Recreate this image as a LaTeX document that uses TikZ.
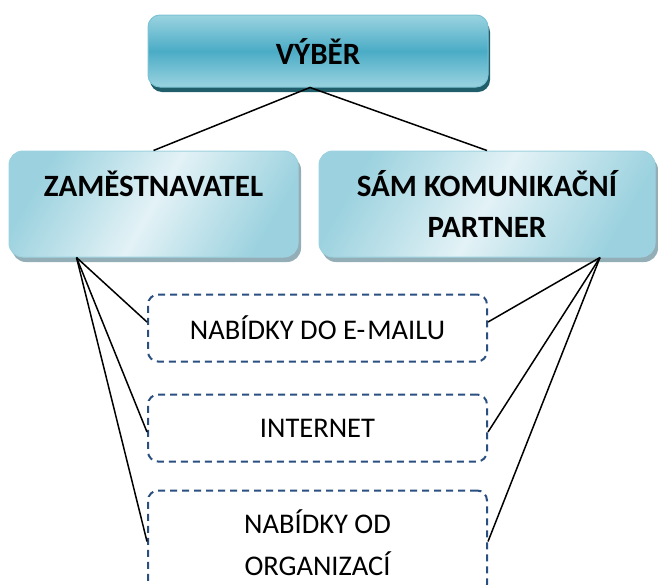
\documentclass[tikz,border=0pt]{standalone}
\usepackage{fontspec}
\setmainfont{Carlito}
\definecolor{tealmid}{HTML}{4BACC6}
\definecolor{teallight}{HTML}{9AD3E0}
\definecolor{tealedge}{HTML}{7DC3D4}
\definecolor{tealshadow}{HTML}{215E6C}
\definecolor{icelight}{HTML}{E3F2F6}
\definecolor{icedark}{HTML}{9CD2DF}
\definecolor{iceshadow}{HTML}{93AEB6}
\definecolor{dashblue}{HTML}{2A4F80}
\usetikzlibrary{positioning,shadows}

\begin{document}
\begin{tikzpicture}[
  x=1pt,y=-1pt,
  head/.style={draw=tealedge,line width=1pt,rounded corners=12pt,
               top color=teallight,bottom color=teallight,middle color=tealmid,
               drop shadow={shadow xshift=2pt,shadow yshift=-5pt,fill=tealshadow,opacity=1},
               font=\fontsize{31}{37}\selectfont\bfseries,align=center,
               minimum width=340pt,minimum height=72pt},
  side/.style={draw=icedark,line width=1pt,rounded corners=14pt,
               top color=icedark,bottom color=icedark,middle color=icelight,shading angle=60,
               drop shadow={shadow xshift=3pt,shadow yshift=-5pt,fill=iceshadow,opacity=1},
               font=\fontsize{31}{41}\selectfont\bfseries,align=center,
               minimum height=106pt},
  offer/.style={draw=dashblue,line width=2pt,dash pattern=on 7pt off 5pt,
                rounded corners=10pt,font=\fontsize{28.5}{42}\selectfont,
                align=center,minimum width=339pt,minimum height=67pt},
  link/.style={black,line width=1.5pt}
]
  \useasboundingbox (0,0) rectangle (658,584);
  \clip (0,0) rectangle (658,584);

  \node[head] (vyber) at (318,51) {VÝBĚR};
  \node[side,minimum width=289pt] (zam) at (153.5,204) {ZAMĚSTNAVATEL\\~};
  \node[side,minimum width=336pt] (partner) at (487,204) {SÁM KOMUNIKAČNÍ\\PARTNER};

  \node[offer] (mail) at (317.5,328) {NABÍDKY DO E-\kern2pt MAILU};
  \node[offer,below=31pt of mail] (internet) {INTERNET};
  \node[offer,below=27pt of internet,minimum height=104pt] (org) {NABÍDKY OD\\ORGANIZACÍ};

  \draw[link] (zam.north) -- ([xshift=-8pt]vyber.south) -- (partner.north);

  \draw[link] ([xshift=-77pt]zam.south) -- ([yshift=6pt]mail.west);
  \draw[link] ([xshift=-77pt]zam.south) -- ([yshift=-4pt]internet.west);
  \draw[link] ([xshift=-77pt]zam.south) -- ([yshift=1pt]org.west);
  \draw[link] ([xshift=113pt]partner.south) -- ([yshift=6pt]mail.east);
  \draw[link] ([xshift=113pt]partner.south) -- ([yshift=-4pt]internet.east);
  \draw[link] ([xshift=113pt]partner.south) -- ([yshift=1pt]org.east);
\end{tikzpicture}
\end{document}
